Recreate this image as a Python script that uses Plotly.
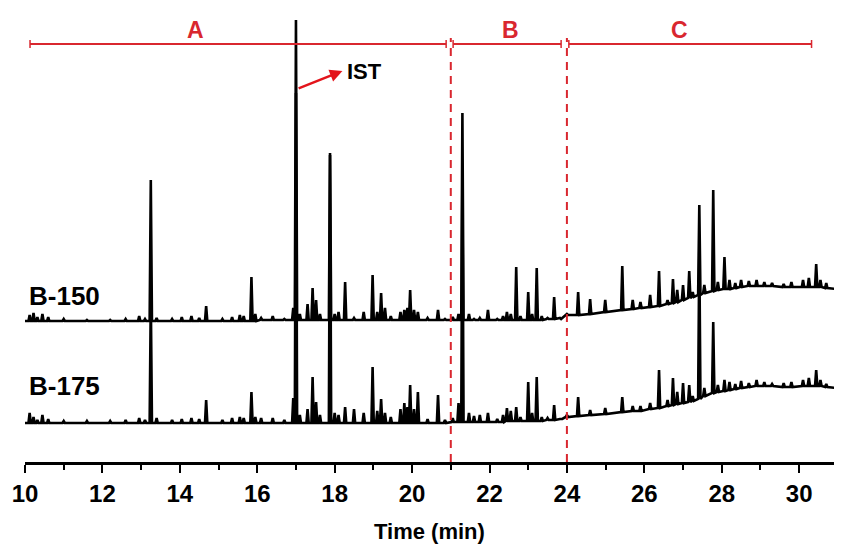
import plotly.graph_objects as go

# ---------------- data ----------------
# retention times of resolved peaks (min)
rt = [10.12, 10.22, 10.32, 10.45, 10.60, 11.00, 11.60, 12.20, 12.60, 12.95,
      13.10, 13.25, 13.40, 13.80, 14.05, 14.30, 14.50, 14.68, 15.10, 15.35,
      15.55, 15.65, 15.85, 15.95, 16.10, 16.40, 16.70, 16.93, 17.00, 17.10,
      17.30, 17.43, 17.52, 17.62, 17.88, 18.00, 18.10, 18.27, 18.50, 18.75,
      18.98, 19.10, 19.20, 19.30, 19.45, 19.70, 19.80, 19.88, 19.95, 20.05,
      20.15, 20.40, 20.67, 20.85, 21.05, 21.20, 21.30, 21.47, 21.60, 21.75,
      21.96, 22.20, 22.35, 22.45, 22.55, 22.69, 22.80, 23.00, 23.10, 23.22,
      23.35, 23.50, 23.67, 23.85, 24.00, 24.29, 24.60, 24.99, 25.43, 25.70,
      25.90, 26.15, 26.38, 26.60, 26.74, 26.85, 27.00, 27.16, 27.25, 27.42,
      27.55, 27.78, 27.90, 28.07, 28.20, 28.35, 28.50, 28.70, 28.90, 29.10,
      29.30, 29.60, 29.80, 30.10, 30.25, 30.44, 30.55, 30.70, 30.98]

# B-150: apex signal and baseline (foot) signal at each peak (a.u.)
apex_150 = [7, 9, 5, 8, 5, 3, 2, 2, 3, 6,
            3, 142, 4, 3, 5, 6, 4, 16, 3, 5,
            7, 6, 45, 8, 4, 6, 3, 14, 302, 8,
            18, 34, 22, 8, 167, 8, 10, 40, 4, 10,
            47, 10, 29, 14, 6, 10, 12, 14, 32, 12,
            10, 4, 12, 3, 5, 8, 209, 8, 3, 4,
            12, 3, 6, 10, 8, 55, 6, 30, 8, 54,
            6, 4, 25, 3, 8, 30, 23, 22, 56, 22,
            20, 27, 51, 22, 43, 32, 37, 51, 30, 117,
            37, 132, 40, 65, 42, 39, 42, 41, 42, 40,
            39, 38, 40, 42, 44, 58, 42, 39, 41]
foot_150 = [1, 1, 1, 1, 1, 1, 1, 1, 1, 1,
            1, 1, 1, 1, 1, 1, 1, 1, 1, 1,
            1, 1, 1, 1, 2, 2, 2, 2, 2, 2,
            2, 2, 2, 2, 2, 2, 2, 2, 2, 2,
            2, 2, 2, 2, 2, 2, 2, 2, 2, 2,
            2, 2, 2, 2, 2, 2, 2, 2, 2, 2,
            2, 2, 2, 2, 2, 2, 2, 2, 2, 2,
            2, 3, 3, 4, 7, 7, 8, 10, 12, 13,
            14, 15, 16, 18, 19, 20, 22, 24, 25, 27,
            29, 31, 32, 33, 33, 34, 35, 36, 36, 36,
            36, 35, 35, 35, 35, 35, 35, 34, 33]
end_150 = 33

# B-175
apex_175 = [10, 6, 3, 8, 4, 2, 2, 2, 3, 5,
            3, 125, 5, 3, 4, 5, 4, 23, 3, 5,
            6, 5, 31, 6, 5, 5, 3, 25, 330, 8,
            14, 46, 21, 8, 270, 10, 8, 16, 14, 10,
            56, 12, 24, 10, 6, 14, 20, 16, 38, 14,
            31, 4, 28, 3, 5, 20, 250, 10, 7, 8,
            10, 4, 8, 15, 12, 16, 6, 41, 10, 46,
            6, 5, 18, 4, 8, 26, 13, 15, 26, 17,
            17, 20, 53, 23, 45, 31, 40, 38, 27, 173,
            35, 101, 38, 43, 41, 39, 42, 40, 43, 41,
            39, 40, 41, 43, 45, 53, 43, 39, 41]
foot_175 = [0, 0, 0, 0, 0, 0, 0, 0, 0, 0,
            0, 0, 0, 0, 0, 0, 0, 0, 0, 0,
            0, 0, 0, 0, 0, 0, 0, 0, 0, 0,
            0, 0, 0, 0, 0, 0, 0, 0, 0, 0,
            0, 0, 0, 0, 0, 0, 0, 0, 0, 0,
            0, 0, 0, 0, 1, 1, 1, 1, 1, 1,
            1, 1, 1, 2, 2, 2, 2, 2, 2, 2,
            2, 3, 3, 4, 6, 7, 8, 9, 11, 12,
            12, 14, 15, 17, 18, 19, 20, 21, 22, 24,
            27, 30, 31, 32, 33, 34, 35, 36, 37, 37,
            37, 36, 36, 37, 37, 37, 37, 36, 35]
end_175 = 34

tick_vals = [10, 12, 14, 16, 18, 20, 22, 24, 26, 28, 30]
tick_text = ["10", "12", "14", "16", "18", "20", "22", "24", "26", "28", "30"]
x_title = "Time (min)"

region_names = ["A", "B", "C"]
region_start = [10.13, 21.06, 24.05]
region_end = [20.88, 23.85, 30.32]
region_label_x = [14.4, 22.55, 26.9]
region_bounds = [21, 24]

sample_names = ["B-150", "B-175"]

# ---------------- styles / positions ----------------
X_MIN, X_MAX = 10.0, 30.90
OFFSET_150 = 140
OFFSET_175 = 39
HALF_W = 0.03
RED = "#d9272f"
FONT = "Liberation Sans, Arial, sans-serif"


def trace_xy(apex, foot, end, offset):
    xs = [X_MIN]
    ys = [foot[0] + offset]
    for t, a, f in zip(rt, apex, foot):
        xs += [t - HALF_W, t, t + HALF_W]
        ys += [f + offset, a + offset, f + offset]
    xs.append(31.06)
    ys.append(end + offset)
    return xs, ys


fig = go.Figure()
x175, y175 = trace_xy(apex_175, foot_175, end_175, OFFSET_175)
x150, y150 = trace_xy(apex_150, foot_150, end_150, OFFSET_150)
fig.add_trace(go.Scatter(x=x175, y=y175, mode="lines", name="B-175",
                         line=dict(color="black", width=2.6), showlegend=False))
fig.add_trace(go.Scatter(x=x150, y=y150, mode="lines", name="B-150",
                         line=dict(color="black", width=2.6), showlegend=False))

shapes = []
BR_Y = 418
for xb in region_bounds:
    shapes.append(dict(type="line", xref="x", yref="y", x0=xb, x1=xb, y0=0, y1=424,
                       line=dict(color=RED, width=2, dash="8px,6px")))
for s, e in zip(region_start, region_end):
    shapes.append(dict(type="line", xref="x", yref="y", x0=s, x1=e, y0=BR_Y, y1=BR_Y,
                       line=dict(color=RED, width=2)))
    for xe in (s, e):
        shapes.append(dict(type="line", xref="x", yref="y", x0=xe, x1=xe,
                           y0=BR_Y - 4, y1=BR_Y + 4, line=dict(color=RED, width=1.5)))

annotations = []
for name, lx in zip(region_names, region_label_x):
    annotations.append(dict(x=lx, y=432, xref="x", yref="y", text="<b>" + name + "</b>",
                            showarrow=False,
                            font=dict(family=FONT, size=23, color=RED)))
annotations.append(dict(x=18.2, y=391, xref="x", yref="y", ax=17.03, ay=373,
                        axref="x", ayref="y", text="", showarrow=True,
                        arrowhead=2, arrowsize=1, arrowwidth=2.5, arrowcolor="#e3141b"))
annotations.append(dict(x=18.27, y=391, xref="x", yref="y", text="<b>IST</b>",
                        showarrow=False, xanchor="left",
                        font=dict(family=FONT, size=22, color="black")))
for nm, yy in zip(sample_names, [166, 76]):
    annotations.append(dict(x=10.05, y=yy, xref="x", yref="y", text="<b>" + nm + "</b>",
                            showarrow=False, xanchor="left",
                            font=dict(family=FONT, size=26, color="black")))
# axis title
annotations.append(dict(x=20.45, y=-0.152, xref="x", yref="paper", text="<b>" + x_title + "</b>",
                        showarrow=False, yanchor="middle",
                        font=dict(family=FONT, size=22, color="black")))

fig.update_layout(
    width=826, height=536,
    margin=dict(l=17, r=0, t=0, b=82, autoexpand=False),
    paper_bgcolor="white", plot_bgcolor="white",
    shapes=shapes, annotations=annotations,
    xaxis=dict(range=[X_MIN, X_MAX], showgrid=False, zeroline=False, automargin=False,
               showline=True, linecolor="black", linewidth=2.5,
               ticks="outside", ticklen=8, tickwidth=2, tickcolor="black",
               tickvals=tick_vals, ticktext=tick_text,
               tickfont=dict(family=FONT, size=24, color="black", weight="bold"),
               minor=dict(dtick=1, tick0=10, ticks="outside", ticklen=5,
                          tickwidth=2, tickcolor="black")),
    yaxis=dict(range=[0, 454], visible=False, fixedrange=True),
)

fig.write_html("out.html")
